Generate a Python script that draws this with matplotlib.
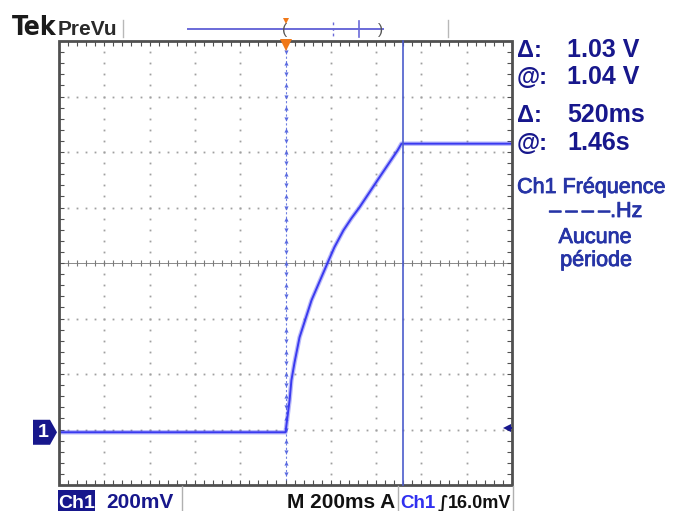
import matplotlib
matplotlib.use("Agg")
import matplotlib.pyplot as plt
from matplotlib.patches import Rectangle, Polygon
from matplotlib.lines import Line2D
import matplotlib.patheffects as pe
import numpy as np

# Ch1 capture: time relative to the trigger (s) and voltage above ground (V)
time_s = [-1.0, 0.0, 0.018, 0.026, 0.040, 0.062, 0.115, 0.185, 0.216, 0.256,
          0.291, 0.327, 0.415, 0.495, 0.512, 1.0]
volts = [0.0, 0.0, 0.115, 0.187, 0.252, 0.342, 0.476, 0.609, 0.667, 0.728,
         0.771, 0.811, 0.919, 1.016, 1.040, 1.040]

# Scope settings
volts_per_div = 0.2
sec_per_div = 0.2
ground_div = -3.05
trigger_level_v = 0.016
cursor_time_s = 0.52

readout_labels = ["Δ:", "@:", "Δ:", "@:"]
readout_values = ["1.03 V", "1.04 V", "520ms", "1.46s"]
freq_lines = ["Ch1 Fréquence", "–\u2009–\u2009–\u2009–.Hz", "Aucune", "période"]

W, H = 686, 511
fig = plt.figure(figsize=(W / 100, H / 100), dpi=100)
fig.patch.set_facecolor("white")


def fx(x):
    return x / W


def fy(y):
    return 1 - y / H


NAVY = "#17178c"
MID_BLUE = "#2634a6"
TRACE = "#3a3af0"
CURSOR = "#4c5ccc"
GRID = "#a0a0a0"
FRAME = "#505050"
SANS = ["Liberation Sans", "DejaVu Sans"]

# Graticule area: 10 x 8 divisions
L, R, T, B = 59, 512, 41, 485
ax = fig.add_axes([fx(L), fy(B), (R - L) / W, (B - T) / H])
ax.set_xlim(-5, 5)
ax.set_ylim(-4, 4)
ax.axis("off")

minor_x = np.round(np.arange(-5, 5.001, 0.2), 3)
minor_y = np.round(np.arange(-4, 4.001, 0.2), 3)

# dotted division lines
for gx in [-4, -3, -2, -1, 1, 2, 3, 4]:
    ax.plot(np.full_like(minor_y, gx), minor_y, ls="none", marker="s",
            ms=1.3, mew=0, color=GRID)
for gy in [-3, -2, -1, 1, 2, 3]:
    ax.plot(minor_x, np.full_like(minor_x, gy), ls="none", marker="s",
            ms=1.3, mew=0, color=GRID)

# horizontal centre line with minor ticks
ax.plot([-5, 5], [0, 0], color="#8a8a8a", lw=0.7)
ax.plot(minor_x, np.zeros_like(minor_x), ls="none", marker="|", ms=4,
        mew=0.8, color="#7a7a7a")

# trigger-position column at t = 0
ax.plot([0, 0], [-4, 4], color="#7080e0", lw=0.8, ls=(0, (2, 2)))
up = minor_y[::2]
dn = minor_y[1::2]
ax.plot(np.zeros_like(up), up, ls="none", marker="^", ms=3, mew=0,
        color="#5a6ae0")
ax.plot(np.zeros_like(dn), dn, ls="none", marker="v", ms=3, mew=0,
        color="#5a6ae0")

# border ticks
tick_kw = dict(ls="none", ms=3.5, mew=0.8, color=FRAME, clip_on=False)
ax.plot(minor_x, np.full_like(minor_x, 4), marker=3, **tick_kw)
ax.plot(minor_x, np.full_like(minor_x, -4), marker=2, **tick_kw)
ax.plot(np.full_like(minor_y, -5), minor_y, marker=1, **tick_kw)
ax.plot(np.full_like(minor_y, 5), minor_y, marker=0, **tick_kw)
ax.add_patch(Rectangle((-5, -4), 10, 8, fill=False, ec=FRAME, lw=2,
                       clip_on=False, zorder=5))

# Ch1 trace
tx = np.array(time_s) / sec_per_div
ty = np.array(volts) / volts_per_div + ground_div
ax.plot(tx, ty, color=TRACE, lw=3.2, alpha=0.35, solid_joinstyle="round")
ax.plot(tx, ty, color=TRACE, lw=1.4, solid_joinstyle="round")

# time cursor
cx = cursor_time_s / sec_per_div
ax.plot([cx, cx], [-4, 4], color=CURSOR, lw=1.2, zorder=6, clip_on=False)

# trigger markers
ax.plot(0, 3.93, marker="v", ms=8, mew=0, color="#f07818", clip_on=False,
        zorder=7)
lvl = trigger_level_v / volts_per_div + ground_div
ax.plot(4.88, lvl, marker="<", ms=6, mew=0, color=NAVY, zorder=7)
ax.plot([4.88, 4.97], [lvl, lvl], color=NAVY, lw=1.5, zorder=7)

# Ch1 ground marker on the left
gpy = B - (ground_div + 4) * (B - T) / 8
pent = Polygon([(fx(33), fy(gpy - 12.5)), (fx(50), fy(gpy - 12.5)),
                (fx(57), fy(gpy)), (fx(50), fy(gpy + 12.5)),
                (fx(33), fy(gpy + 12.5))], closed=True,
               transform=fig.transFigure, fc=NAVY, ec="none")
fig.patches.append(pent)
fig.text(fx(43), fy(gpy), "1", color="white", fontsize=14, weight="bold",
         family=SANS, ha="center", va="center")

# header
fig.text(fx(12), fy(35), "Tek", fontsize=19, weight="bold",
         family=["DejaVu Sans"], stretch="condensed", color="#1a1a1a",
         va="baseline")
fig.text(fx(58), fy(35), "PreVu", fontsize=15, family=SANS, weight="bold",
         color="#2a2a2a", va="baseline")
for xv in (123, 448):
    fig.lines.append(Line2D([fx(xv), fx(xv)], [fy(20), fy(37)],
                            transform=fig.transFigure, color="#b8b8b8",
                            lw=1))
fig.lines.append(Line2D([fx(188), fx(383)], [fy(29), fy(29)],
                        transform=fig.transFigure, color="#6a6ad8", lw=1.4))
fig.lines.append(Line2D([fx(333), fx(333)], [fy(22), fy(37)],
                        transform=fig.transFigure, color="#6a6ad8", lw=1,
                        ls=(0, (2, 2))))
fig.lines.append(Line2D([fx(359), fx(359)], [fy(21), fy(37)],
                        transform=fig.transFigure, color="#6a6ad8", lw=1.2))
fig.text(fx(285), fy(30), "(", fontsize=11, color="#555555", ha="center",
         va="center", family=SANS)
fig.text(fx(380), fy(30), ")", fontsize=11, color="#555555", ha="center",
         va="center", family=SANS)
fig.lines.append(Line2D([fx(286)], [fy(21)], transform=fig.transFigure,
                        marker="v", ms=4, mew=0, color="#f07818"))

# cursor readouts
base_rows = [57, 84, 122, 150]
for lab, val, yb in zip(readout_labels, readout_values, base_rows):
    fig.text(fx(517), fy(yb), lab, fontsize=17, weight="bold", family=SANS,
             color=NAVY, va="baseline")
    fig.text(fx(567), fy(yb), val, fontsize=18, weight="bold", family=SANS,
             color=NAVY, va="baseline")

# frequency measurement box
stroke = [pe.withStroke(linewidth=0.6, foreground=MID_BLUE)]
freq_pos = [(591, 193), (596, 217), (595, 243), (596, 266)]
for txt, (xc, yb) in zip(freq_lines, freq_pos):
    fig.text(fx(xc), fy(yb), txt, fontsize=15.5, family=SANS,
             color=MID_BLUE, ha="center", va="baseline", path_effects=stroke)

# status bar
fig.patches.append(Rectangle((fx(58), fy(511)), fx(95) - fx(58),
                             fy(490) - fy(511), transform=fig.transFigure,
                             fc=NAVY, ec="none"))
fig.text(fx(76.5), fy(508), "Ch1", fontsize=14, weight="bold",
         family=SANS, color="white", ha="center", va="baseline")
fig.text(fx(106), fy(508), "200mV", fontsize=15, weight="bold",
         family=SANS, color=NAVY, va="baseline")
for xv in (182, 398, 513):
    fig.lines.append(Line2D([fx(xv), fx(xv)], [fy(486), fy(511)],
                            transform=fig.transFigure, color="#b0b0b0",
                            lw=1))
fig.text(fx(287), fy(508), "M 200ms A", fontsize=15, weight="bold",
         family=SANS, color="#111111", va="baseline")
fig.text(fx(400), fy(508), "Ch1", fontsize=13.5, weight="bold",
         family=SANS, color="#3030f0", va="baseline")
fig.text(fx(443), fy(508), "∫", fontsize=12.5, weight="bold",
         family=["DejaVu Sans"], color="#111111", ha="center",
         va="baseline")
fig.text(fx(511), fy(508), "16.0mV", fontsize=13, weight="bold",
         family=SANS, color="#111111", ha="right", va="baseline")

fig.savefig("out.png", dpi=100, facecolor="white")
